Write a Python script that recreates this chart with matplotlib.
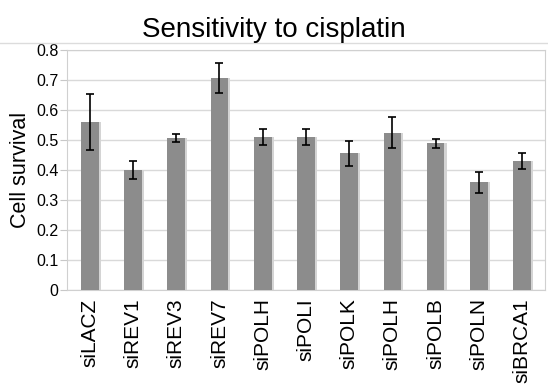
import numpy as np
import matplotlib.pyplot as plt
from matplotlib.lines import Line2D

plt.rcParams['font.family'] = ['Liberation Sans', 'DejaVu Sans']

# données
genes = ['siLACZ', 'siREV1', 'siREV3', 'siREV7', 'siPOLH', 'siPOLI',
         'siPOLK', 'siPOLH', 'siPOLB', 'siPOLN', 'siBRCA1']
survival = [0.56, 0.40, 0.507, 0.707, 0.511, 0.509, 0.456, 0.524, 0.489, 0.36, 0.43]
erreur = [0.093, 0.03, 0.012, 0.05, 0.026, 0.027, 0.042, 0.052, 0.015, 0.035, 0.027]
yticks = [0, 0.1, 0.2, 0.3, 0.4, 0.5, 0.6, 0.7, 0.8]
ytick_labels = ['0', '0.1', '0.2', '0.3', '0.4', '0.5', '0.6', '0.7', '0.8']

x = np.arange(len(genes))

fig = plt.figure(figsize=(5.48, 3.88), dpi=100)
ax = fig.add_axes([0.122, 0.2526, 0.8725, 0.6185])

# ombre des barres
ax.bar(x + 0.05, survival, width=0.41, color='#d4d4d4', zorder=2)
ax.bar(x, survival, width=0.41, color='#8c8c8c', zorder=3)
ax.errorbar(x, survival, yerr=erreur, fmt='none', ecolor='black',
            elinewidth=1.2, capsize=3, capthick=1.2, zorder=4)

ax.set_xlim(-0.53, len(genes) - 0.47)
ax.set_ylim(0, 0.8)
ax.set_yticks(yticks)
ax.set_yticklabels(ytick_labels, fontsize=11.5)
ax.set_xticks(x)
ax.set_xticklabels(genes, rotation=90, fontsize=15)
ax.tick_params(axis='x', length=0, pad=6)
ax.tick_params(axis='y', length=5, color='#c8c8c8', pad=1)
ax.yaxis.grid(True, color='#d9d9d9', linewidth=1)
ax.set_axisbelow(True)
for s in ax.spines.values():
    s.set_color('#d0d0d0')

ax.set_ylabel('Cell survival', fontsize=15.5, labelpad=4)
fig.text(0.5, 0.905, 'Sensitivity to cisplatin', ha='center', fontsize=20)

# bordure extérieure du graphique
fig.add_artist(Line2D([0.0, 1.0], [0.889, 0.889], color='#dcdcdc', lw=1))

plt.savefig('out.png', dpi=100)
